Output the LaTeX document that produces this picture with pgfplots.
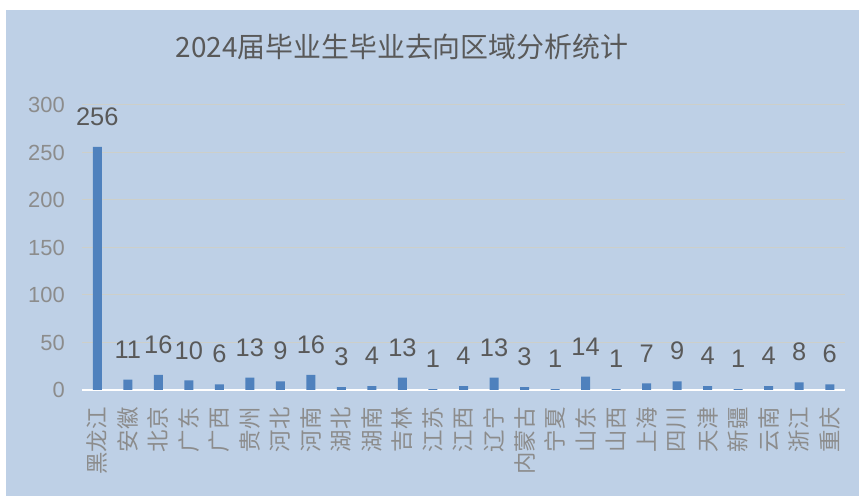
\documentclass[border=0pt]{standalone}
\usepackage{pgfplots}
\pgfplotsset{compat=1.18}
\usepackage{fontspec}
\setmainfont{Liberation Sans}
\newfontfamily\cjk{Noto Sans CJK SC}
\definecolor{bg}{HTML}{BED0E6}
\definecolor{barblue}{HTML}{4F81BD}
\definecolor{gridc}{HTML}{CDCFC9}
\definecolor{titlec}{HTML}{595959}
\definecolor{tickc}{HTML}{8C8C8C}
\begin{document}
\begin{tikzpicture}[x=1bp,y=1bp]
\fill[white] (0,0) rectangle (859,496);
\useasboundingbox (0,0) rectangle (859,496);
\fill[bg] (6,0) rectangle (859,486);
\node[font=\cjk\fontsize{28}{28}\selectfont, text=titlec] at (402,449) {2024届毕业生毕业去向区域分析统计};
\begin{axis}[
  at={(82bp,106bp)}, anchor=south west,
  scale only axis, width=763bp, height=285bp,
  /pgf/number format/assume math mode=true,
  xmin=-0.5, xmax=24.5, ymin=0, ymax=300,
  ytick={0,50,...,300},
  xtick=data,
  xticklabels={黑龙江,安徽,北京,广东,广西,贵州,河北,河南,湖北,湖南,吉林,江苏,江西,辽宁,内蒙古,宁夏,山东,山西,上海,四川,天津,新疆,云南,浙江,重庆},
  axis x line=bottom, axis y line=left, axis line style={-},
  x axis line style={white, line width=2bp},
  y axis line style={draw=none},
  major tick length=0pt, tick style={draw=none},
  ymajorgrids, grid style={gridc, line width=1bp},
  yticklabel style={font=\fontsize{22}{22}\selectfont, text=tickc, anchor=east, inner sep=0pt, xshift=-17bp},
  xticklabel style={font=\cjk\fontsize{22.5}{22.5}\selectfont, text=tickc, inner sep=0pt, yshift=-17bp, rotate=90, anchor=east},
  ybar, bar width=9bp,
  nodes near coords,
  nodes near coords style={font=\fontsize{25.5}{25.5}\selectfont, text=titlec, anchor=south, inner sep=0pt, yshift=21bp},
]
\addplot[fill=barblue, draw=none] coordinates {
(0,256) (1,11) (2,16) (3,10) (4,6) (5,13) (6,9) (7,16) (8,3) (9,4) (10,13) (11,1) (12,4) (13,13) (14,3) (15,1) (16,14) (17,1) (18,7) (19,9) (20,4) (21,1) (22,4) (23,8) (24,6)
};
\end{axis}
\end{tikzpicture}
\end{document}
